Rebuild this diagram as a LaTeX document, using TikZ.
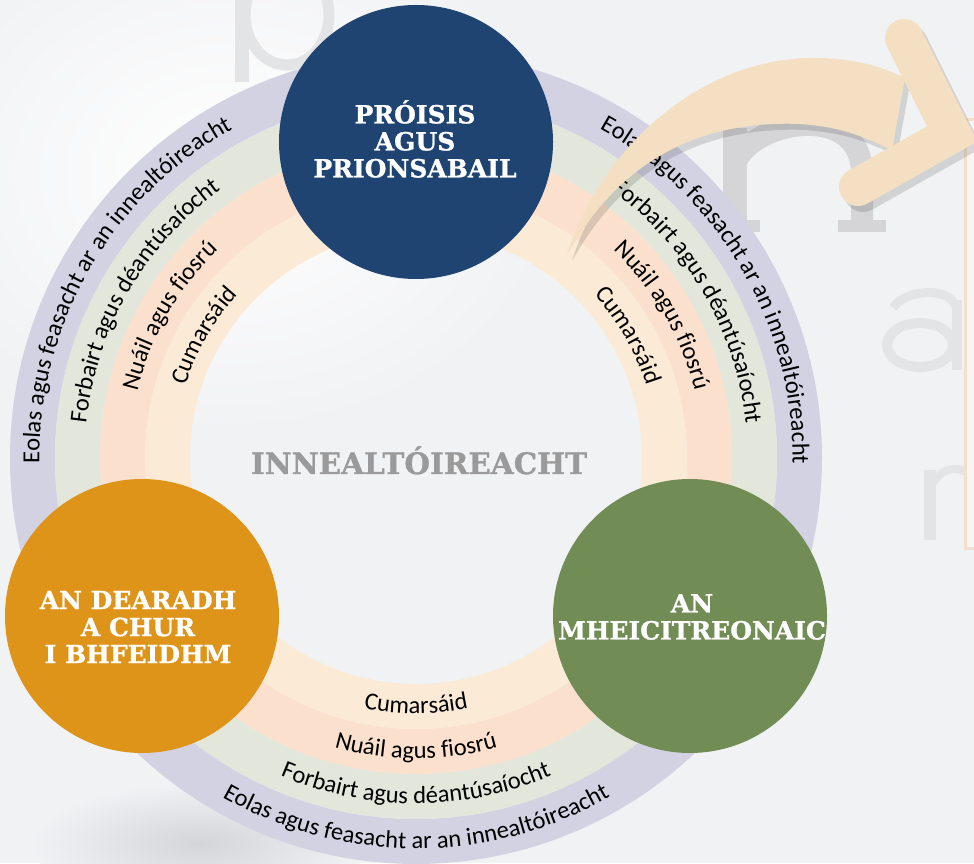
\documentclass[tikz,border=0pt]{standalone}
\usepackage{fontspec}
\setmainfont{Carlito}
\newfontfamily\RingFnt{Carlito}
\newfontfamily\TitleFnt{DejaVu Serif}[BoldFeatures={FakeBold=1}]
\usetikzlibrary{decorations.text,calc}
\definecolor{bgcol}{HTML}{F1F2F4}
\definecolor{lav}{HTML}{D3D2E3}
\definecolor{sage}{HTML}{E3E6DA}
\definecolor{peach}{HTML}{FAE0CD}
\definecolor{cream}{HTML}{FBEAD6}
\definecolor{navy}{HTML}{1F4471}
\definecolor{amber}{HTML}{DD9419}
\definecolor{olive}{HTML}{718C55}
\definecolor{arrowcol}{HTML}{F4DFC3}
\definecolor{engray}{HTML}{9A9A9A}
\definecolor{panelline}{HTML}{F3E0CA}
\definecolor{panelfill}{HTML}{F7F6F4}
\definecolor{smudge}{HTML}{D4D5D9}
\definecolor{wmdark}{HTML}{D5D5D8}
\definecolor{wmlight}{HTML}{E3E4E6}
\newcommand\RingSz{\RingFnt\fontsize{24.5}{26}\selectfont}
\begin{document}
\begin{tikzpicture}[x=1pt,y=1pt,
  arctext/.style={decorate, decoration={text along path, text align=center, text={|\RingSz|#1}}},
  circ/.style={circle, minimum size=274pt, inner sep=0pt},
  title/.style={text=white, align=center, inner sep=0pt, font=\TitleFnt\bfseries\fontsize{25}{27}\selectfont},
  wmstroke/.style={draw=#1, line cap=butt},
]
\useasboundingbox (0,0) rectangle (974,863);
\clip (0,0) rectangle (974,863);
% background
\fill[bgcol] (0,0) rectangle (974,863);
\shade[inner color=white, outer color=bgcol] (230,690) ellipse (330pt and 260pt);
\shade[inner color=smudge, outer color=bgcol] (200,20) ellipse (170pt and 60pt);
% faint shapes of the blurred background lettering
\draw[wmstroke=wmlight, line width=14pt] (242,863) -- (242,781);
\draw[wmstroke=wmlight, line width=11pt] (287,848) ellipse (42pt and 50pt);
\draw[wmstroke=wmdark, line width=24pt] (735,631) -- (735,735);
\draw[wmstroke=wmdark, line width=22pt] (735,700) .. controls (755,745) and (862,760) .. (862,690) -- (862,631);
\fill[wmdark] (712,631) rectangle (760,643);
\fill[wmdark] (838,631) rectangle (886,643);
\draw[wmstroke=wmlight, line width=10pt] (920,518) ellipse (33pt and 22pt);
\draw[wmstroke=wmlight, line width=10pt] (957,563) -- (957,493);
\draw[wmstroke=wmlight, line width=9pt] (893,555) .. controls (905,575) and (957,578) .. (957,550);
\draw[wmstroke=wmlight, line width=12pt] (930,393) -- (930,323);
\draw[wmstroke=wmlight, line width=8pt] (930,375) .. controls (940,395) and (955,398) .. (968,390);
% rings
\coordinate (C) at (416,405);
\fill[lav, even odd rule] (C) circle[radius=406pt] (C) circle[radius=361pt];
\fill[sage, even odd rule] (C) circle[radius=361pt] (C) circle[radius=316pt];
\fill[peach, even odd rule] (C) circle[radius=316pt] (C) circle[radius=271pt];
\fill[cream, even odd rule] (C) circle[radius=271pt] (C) circle[radius=226pt];
% ring texts: upper left
\path[arctext={Eolas agus feasacht ar an innealtóireacht}] ($(C)+(210:376.5pt)$) arc[start angle=210, end angle=90, radius=376.5pt];
\path[arctext={Forbairt agus déantúsaíocht}] ($(C)+(210:331.5pt)$) arc[start angle=210, end angle=90, radius=331.5pt];
\path[arctext={Nuáil agus fiosrú}] ($(C)+(210:286.5pt)$) arc[start angle=210, end angle=90, radius=286.5pt];
\path[arctext={Cumarsáid}] ($(C)+(210:241.5pt)$) arc[start angle=210, end angle=90, radius=241.5pt];
% upper right
\path[arctext={Eolas agus feasacht ar an innealtóireacht}] ($(C)+(90:376.5pt)$) arc[start angle=90, end angle=-30, radius=376.5pt];
\path[arctext={Forbairt agus déantúsaíocht}] ($(C)+(90:331.5pt)$) arc[start angle=90, end angle=-30, radius=331.5pt];
\path[arctext={Nuáil agus fiosrú}] ($(C)+(90:286.5pt)$) arc[start angle=90, end angle=-30, radius=286.5pt];
\path[arctext={Cumarsáid}] ($(C)+(90:241.5pt)$) arc[start angle=90, end angle=-30, radius=241.5pt];
% bottom
\path[arctext={Eolas agus feasacht ar an innealtóireacht}] ($(C)+(210:390.5pt)$) arc[start angle=210, end angle=330, radius=390.5pt];
\path[arctext={Forbairt agus déantúsaíocht}] ($(C)+(210:345.5pt)$) arc[start angle=210, end angle=330, radius=345.5pt];
\path[arctext={Nuáil agus fiosrú}] ($(C)+(210:300.5pt)$) arc[start angle=210, end angle=330, radius=300.5pt];
\path[arctext={Cumarsáid}] ($(C)+(210:255.5pt)$) arc[start angle=210, end angle=330, radius=255.5pt];
% circles
\node[circ, fill=navy] (proc) at (416,721) {};
\node[circ, fill=amber] (design) at (142,247) {};
\node[circ, fill=olive] (mech) at (690,247) {};
\node[title] (proclbl) at (415,724) {PRÓISIS\\AGUS\\PRIONSABAIL};
\node[title] (designlbl) at (138,236) {AN DEARADH\\A CHUR\\I BHFEIDHM};
\node[title] (mechlbl) at (692,246) {AN\\MHEICITREONAIC};
% centre word
\node[anchor=base, inner sep=0pt, text=engray, font=\TitleFnt\bfseries\fontsize{29.5}{32}\selectfont] (eng) at (419,389) {INNEALTÓIREACHT};
% right panel
\draw[line width=3pt, draw=panelline, fill=panelfill] (965,315) rectangle (990,743);
% arrow shadow
\begin{scope}[shift={(5,-6)}]
\fill[black, opacity=0.13] (567,608) .. controls (600,713) and (700,808) .. (820,805) .. controls (855,804) and (880,797) .. (905,785) -- (892,713) .. controls (860,728) and (840,736) .. (800,739) .. controls (700,743) and (620,703) .. (567,608) -- cycle;
\draw[black, opacity=0.13, line width=38pt, line cap=round, line join=miter] (904,825) -- (952,729) -- (858,676);
\end{scope}
% arrow
\fill[arrowcol] (567,608) .. controls (600,713) and (700,808) .. (820,805) .. controls (855,804) and (880,797) .. (905,785) -- (892,713) .. controls (860,728) and (840,736) .. (800,739) .. controls (700,743) and (620,703) .. (567,608) -- cycle;
\draw[arrowcol, line width=38pt, line cap=round, line join=miter] (904,825) -- (952,729) -- (858,676);
\end{tikzpicture}
\end{document}
